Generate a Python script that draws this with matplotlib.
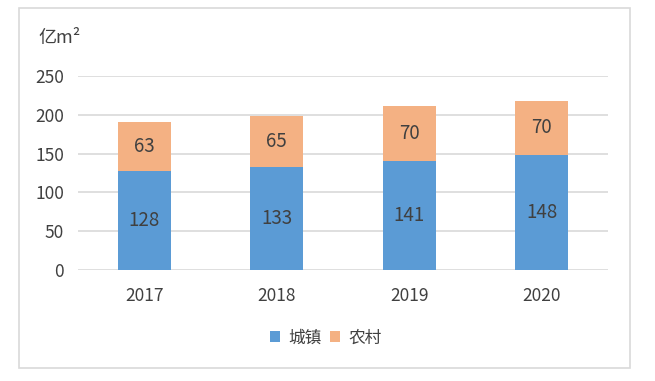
import numpy as np
import matplotlib.pyplot as plt
from matplotlib.patches import Rectangle

plt.rcParams['font.family'] = ['Noto Sans CJK SC', 'DejaVu Sans']

years = ['2017', '2018', '2019', '2020']
urban = [128, 133, 141, 148]
rural = [63, 65, 70, 70]

blue = '#5B9BD5'
orange = '#F4B183'
txt = '#404040'

fig = plt.figure(figsize=(6.55, 3.81), dpi=100)
fig.patches.append(Rectangle((19 / 655, 1 - 368 / 381), 611 / 655, 360 / 381,
                             transform=fig.transFigure, fill=False,
                             edgecolor='#D9D9D9', linewidth=1.2))

ax = fig.add_axes([78 / 655, 1 - 270 / 381, 530 / 655, 194 / 381])
x = np.arange(len(years))
ax.bar(x, urban, width=0.4, color=blue, zorder=3, label='城镇')
ax.bar(x, rural, width=0.4, bottom=urban, color=orange, zorder=3, label='农村')

for i in range(len(years)):
    ax.text(x[i], urban[i] / 2, str(urban[i]), ha='center', va='center',
            fontsize=13.5, color=txt, zorder=4)
    ax.text(x[i], urban[i] + rural[i] / 2, str(rural[i]), ha='center', va='center',
            fontsize=13.5, color=txt, zorder=4)

ax.set_xlim(-0.5, 3.5)
ax.set_ylim(0, 250)
ax.set_yticks(range(0, 251, 50))
ax.set_xticks(x)
ax.set_xticklabels(years)
ax.grid(axis='y', color='#D9D9D9', linewidth=1.2, zorder=0)
for s in ax.spines.values():
    s.set_visible(False)
ax.tick_params(length=0, labelsize=12.5, colors=txt, pad=10)
ax.tick_params(axis='x', pad=12)

fig.text(38 / 655, 1 - 38 / 381, '亿m²', fontsize=13, color=txt, va='center')

ax.legend(loc='center', bbox_to_anchor=(0.497, 1 - 338 / 381), bbox_transform=fig.transFigure,
          ncol=2, frameon=False, fontsize=12, labelcolor=txt,
          handlelength=0.6, handleheight=0.6, handletextpad=0.5, columnspacing=0.5)

fig.savefig('out.png', dpi=100)
